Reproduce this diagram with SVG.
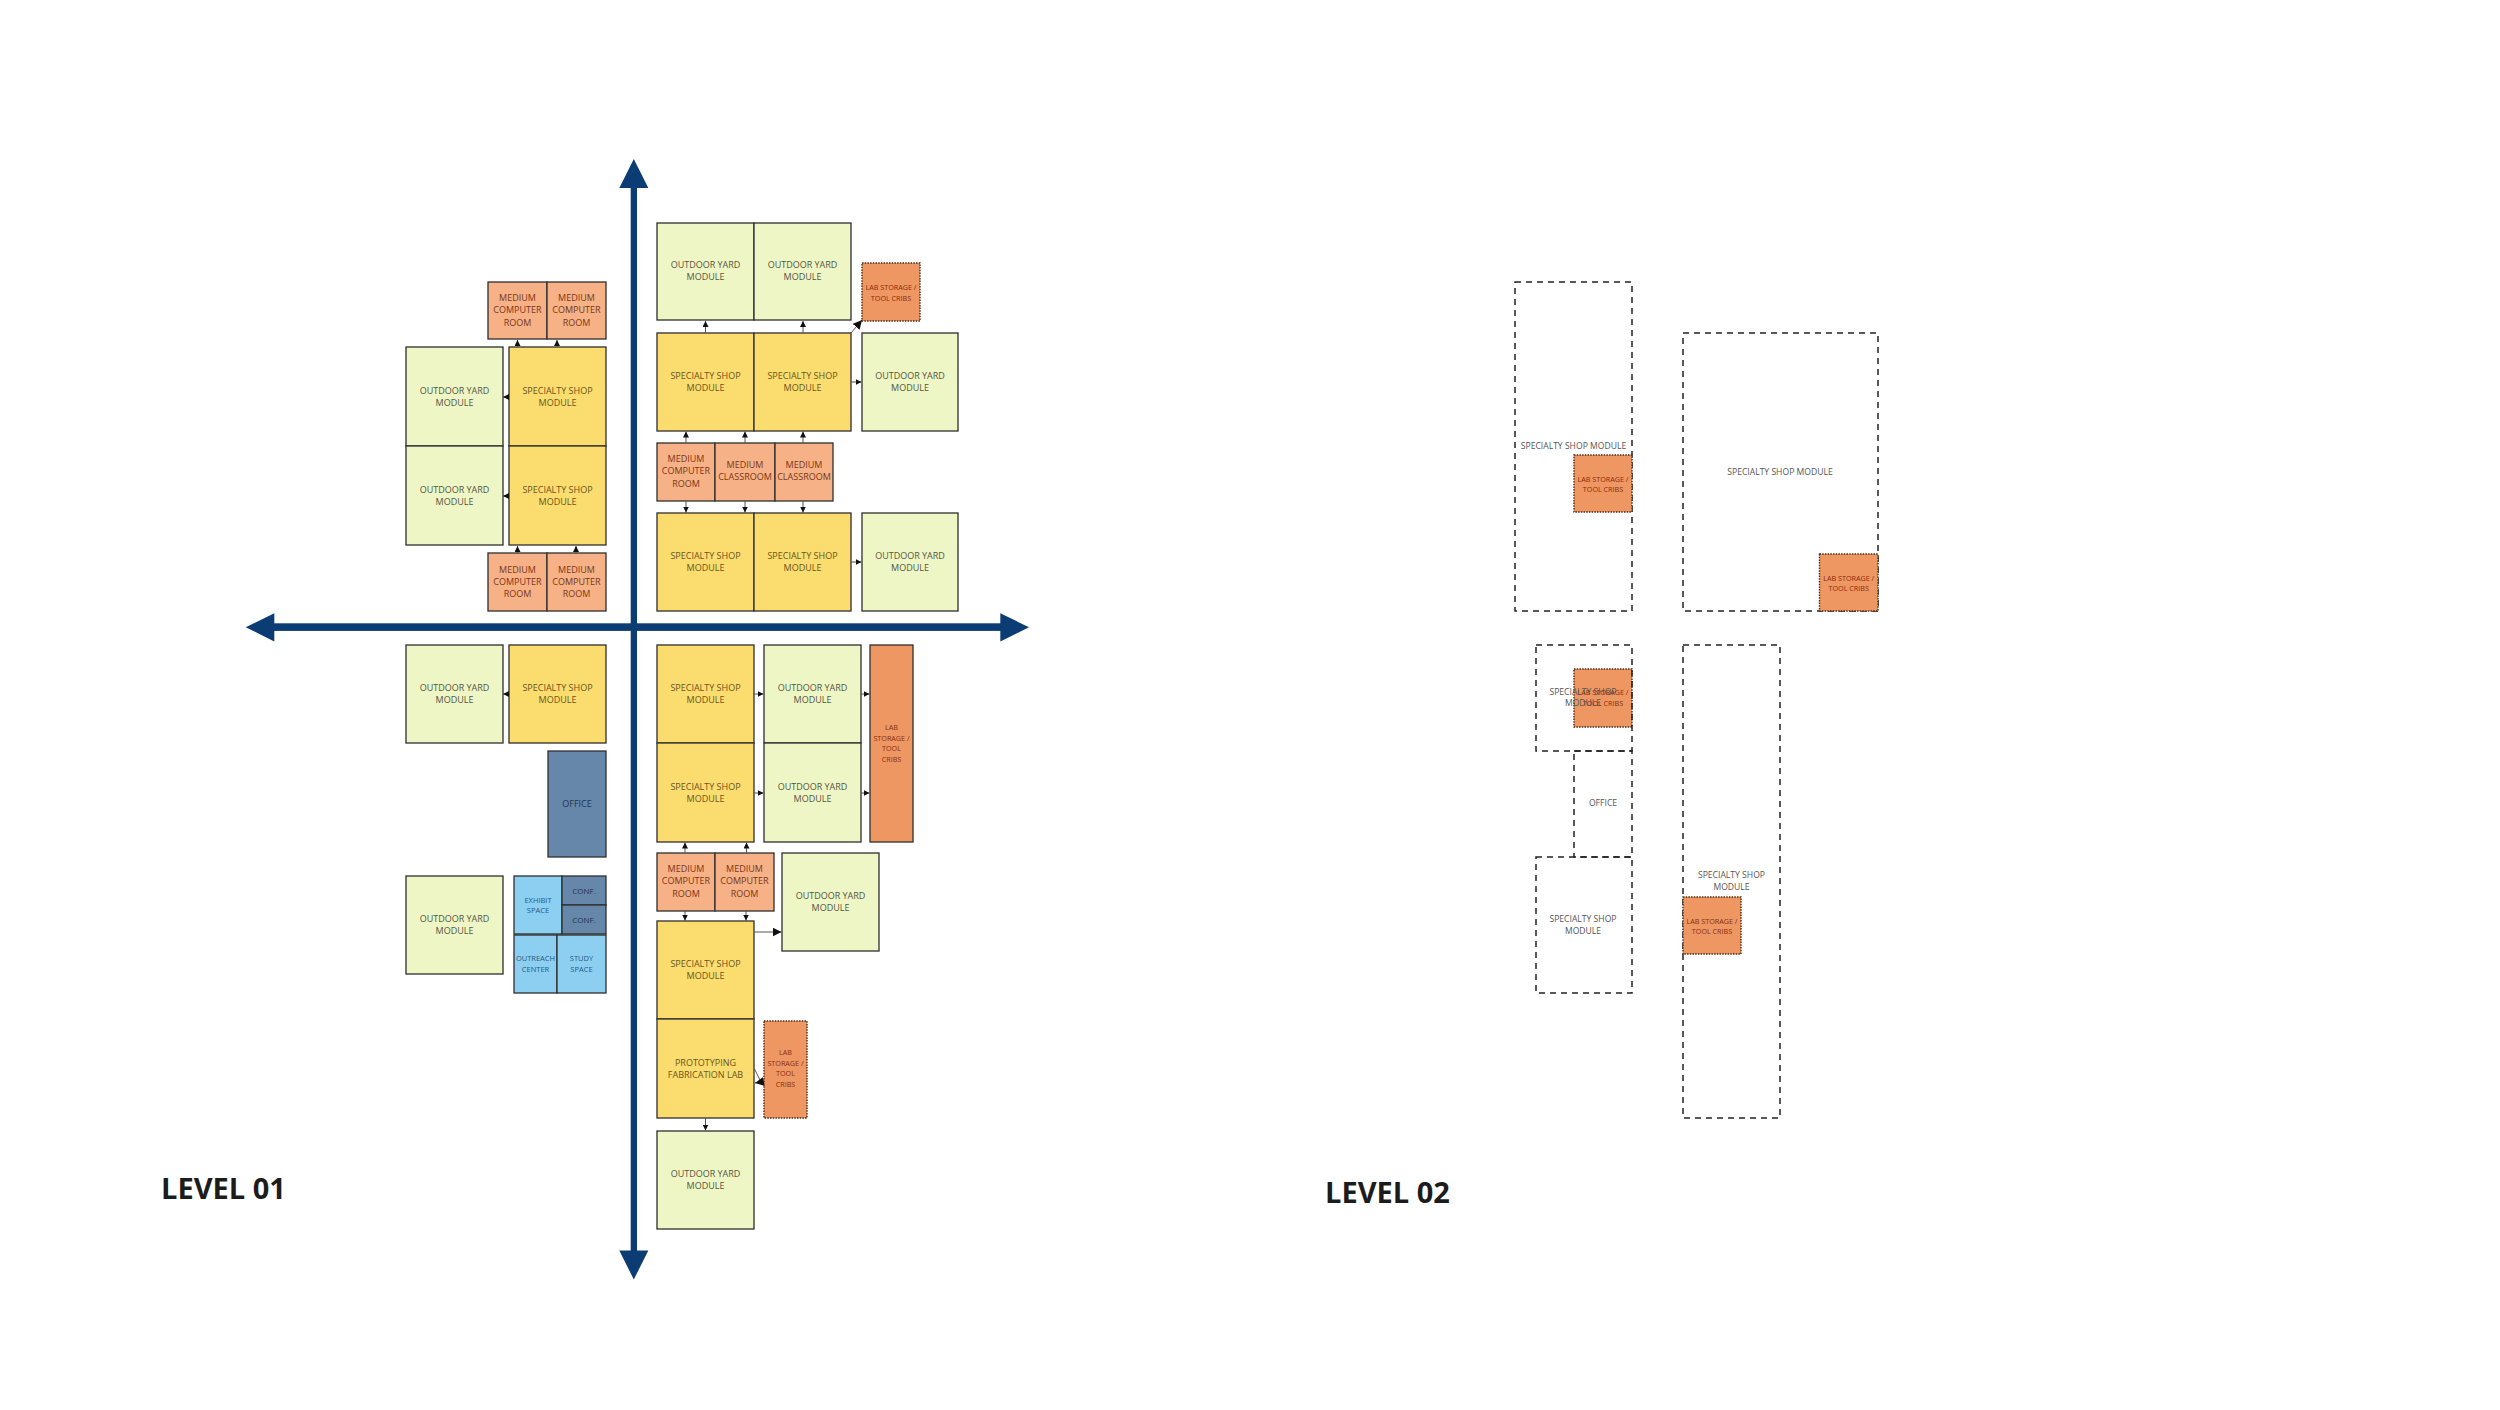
<svg xmlns="http://www.w3.org/2000/svg" width="2500" height="1410" viewBox="0 0 2500 1410">
<style>
text{font-family:"Open Sans","Liberation Sans",sans-serif;font-size:9px;text-anchor:middle}
.oy rect{fill:#eff6c6;stroke:#2e2e2e;stroke-width:1.3}
.oy text{fill:#55553f}
.ss rect{fill:#fbdc6e;stroke:#2e2e2e;stroke-width:1.3}
.ss text{fill:#6a5520}
.rm rect{fill:#f6b286;stroke:#2e2e2e;stroke-width:1.3}
.rm text{fill:#7a3518}
.lab rect{fill:#ee9762;stroke:#4a2a15;stroke-width:1.4;stroke-dasharray:1.5 1.2}
.labs rect{fill:#ee9762;stroke:#2e2e2e;stroke-width:1.3}
.lab text,.labs text{fill:#8a2c10;font-size:7.2px}
.of rect{fill:#6687aa;stroke:#2e2e2e;stroke-width:1.3}
.of text{fill:#1f3550}
.lb rect{fill:#8dcff0;stroke:#2e2e2e;stroke-width:1.3}
.lb text{fill:#245a88;font-size:7.5px}
.dsh rect{fill:none;stroke:#222;stroke-width:1.5;stroke-dasharray:6 5}
.dsh text{fill:#555;font-size:8.6px}
.lvl{font-family:"Open Sans","Liberation Sans",sans-serif;font-weight:700;font-size:29px;fill:#1c1c1c;text-anchor:start}
.cn line,.cn path{stroke:#555;stroke-width:1;fill:none;marker-end:url(#ah)}
.cn .big{marker-end:url(#ahb)}
</style>
<defs>
<marker id="ah" viewBox="0 0 10 10" refX="10" refY="5" markerWidth="6" markerHeight="6" markerUnits="userSpaceOnUse" orient="auto"><path d="M0,0 L10,5 L0,10 z" fill="#111"/></marker>
<marker id="ahb" viewBox="0 0 10 10" refX="10" refY="5" markerWidth="9" markerHeight="9" markerUnits="userSpaceOnUse" orient="auto"><path d="M0,0 L10,5 L0,10 z" fill="#111"/></marker>
</defs>
<rect width="2500" height="1410" fill="#ffffff"/>

<g id="axes" fill="#0b3c74">
<rect x="630.7" y="186" width="6.3" height="1066"/>
<polygon points="633.8,159 619.3,188 648.3,188"/>
<polygon points="633.8,1279.5 619.3,1250.5 648.3,1250.5"/>
<rect x="273" y="623.3" width="728" height="7.6"/>
<polygon points="245.7,627.2 274.3,613.3 274.3,641.5"/>
<polygon points="1029,627.2 1000.3,613.3 1000.3,641.5"/>
</g>

<!-- Level 01, top-left -->
<g id="tl-mcr1" class="rm"><rect x="488" y="282" width="59" height="57"/><text x="517.5" y="301">MEDIUM</text><text x="517.5" y="313.3">COMPUTER</text><text x="517.5" y="325.6">ROOM</text></g>
<g id="tl-mcr2" class="rm"><rect x="547" y="282" width="59" height="57"/><text x="576.5" y="301">MEDIUM</text><text x="576.5" y="313.3">COMPUTER</text><text x="576.5" y="325.6">ROOM</text></g>
<g id="tl-oy1" class="oy"><rect x="406" y="347" width="97" height="99"/><text x="454.5" y="393.5">OUTDOOR YARD</text><text x="454.5" y="405.5">MODULE</text></g>
<g id="tl-ss1" class="ss"><rect x="509" y="347" width="97" height="99"/><text x="557.5" y="393.5">SPECIALTY SHOP</text><text x="557.5" y="405.5">MODULE</text></g>
<g id="tl-oy2" class="oy"><rect x="406" y="446" width="97" height="99"/><text x="454.5" y="492.5">OUTDOOR YARD</text><text x="454.5" y="504.5">MODULE</text></g>
<g id="tl-ss2" class="ss"><rect x="509" y="446" width="97" height="99"/><text x="557.5" y="492.5">SPECIALTY SHOP</text><text x="557.5" y="504.5">MODULE</text></g>
<g id="tl-mcr3" class="rm"><rect x="488" y="553" width="59" height="58"/><text x="517.5" y="572.5">MEDIUM</text><text x="517.5" y="584.8">COMPUTER</text><text x="517.5" y="597.1">ROOM</text></g>
<g id="tl-mcr4" class="rm"><rect x="547" y="553" width="59" height="58"/><text x="576.5" y="572.5">MEDIUM</text><text x="576.5" y="584.8">COMPUTER</text><text x="576.5" y="597.1">ROOM</text></g>

<!-- Level 01, top-right -->
<g id="tr-oy1" class="oy"><rect x="657" y="223" width="97" height="97"/><text x="705.5" y="268">OUTDOOR YARD</text><text x="705.5" y="280">MODULE</text></g>
<g id="tr-oy2" class="oy"><rect x="754" y="223" width="97" height="97"/><text x="802.5" y="268">OUTDOOR YARD</text><text x="802.5" y="280">MODULE</text></g>
<g id="tr-lab1" class="lab"><rect x="862" y="263" width="58" height="58"/><text x="891" y="290">LAB STORAGE /</text><text x="891" y="300.5">TOOL CRIBS</text></g>
<g id="tr-ss1" class="ss"><rect x="657" y="333" width="97" height="98"/><text x="705.5" y="378.5">SPECIALTY SHOP</text><text x="705.5" y="390.5">MODULE</text></g>
<g id="tr-ss2" class="ss"><rect x="754" y="333" width="97" height="98"/><text x="802.5" y="378.5">SPECIALTY SHOP</text><text x="802.5" y="390.5">MODULE</text></g>
<g id="tr-oy3" class="oy"><rect x="862" y="333" width="96" height="98"/><text x="910" y="378.5">OUTDOOR YARD</text><text x="910" y="390.5">MODULE</text></g>
<g id="tr-mcr" class="rm"><rect x="657" y="443" width="58" height="58"/><text x="686" y="462">MEDIUM</text><text x="686" y="474.3">COMPUTER</text><text x="686" y="486.6">ROOM</text></g>
<g id="tr-mc1" class="rm"><rect x="715" y="443" width="60" height="58"/><text x="745" y="468">MEDIUM</text><text x="745" y="480">CLASSROOM</text></g>
<g id="tr-mc2" class="rm"><rect x="775" y="443" width="58" height="58"/><text x="804" y="468">MEDIUM</text><text x="804" y="480">CLASSROOM</text></g>
<g id="tr-ss3" class="ss"><rect x="657" y="513" width="97" height="98"/><text x="705.5" y="558.5">SPECIALTY SHOP</text><text x="705.5" y="570.5">MODULE</text></g>
<g id="tr-ss4" class="ss"><rect x="754" y="513" width="97" height="98"/><text x="802.5" y="558.5">SPECIALTY SHOP</text><text x="802.5" y="570.5">MODULE</text></g>
<g id="tr-oy4" class="oy"><rect x="862" y="513" width="96" height="98"/><text x="910" y="558.5">OUTDOOR YARD</text><text x="910" y="570.5">MODULE</text></g>

<!-- Level 01, bottom-left -->
<g id="bl-oy1" class="oy"><rect x="406" y="645" width="97" height="98"/><text x="454.5" y="691">OUTDOOR YARD</text><text x="454.5" y="703">MODULE</text></g>
<g id="bl-ss1" class="ss"><rect x="509" y="645" width="97" height="98"/><text x="557.5" y="691">SPECIALTY SHOP</text><text x="557.5" y="703">MODULE</text></g>
<g id="bl-office" class="of"><rect x="548" y="751" width="58" height="106"/><text x="577" y="807">OFFICE</text></g>
<g id="bl-oy2" class="oy"><rect x="406" y="876" width="97" height="98"/><text x="454.5" y="922">OUTDOOR YARD</text><text x="454.5" y="934">MODULE</text></g>
<g id="bl-exhibit" class="lb"><rect x="514" y="876" width="48" height="58"/><text x="538" y="902.5">EXHIBIT</text><text x="538" y="913">SPACE</text></g>
<g id="bl-conf1" class="of"><rect x="562" y="876" width="44" height="29"/><text x="584" y="893.5" style="font-size:8px">CONF.</text></g>
<g id="bl-conf2" class="of"><rect x="562" y="905" width="44" height="29"/><text x="584" y="922.5" style="font-size:8px">CONF.</text></g>
<g id="bl-outreach" class="lb"><rect x="514" y="935" width="43" height="58"/><text x="535.5" y="961">OUTREACH</text><text x="535.5" y="971.5">CENTER</text></g>
<g id="bl-study" class="lb"><rect x="557" y="935" width="49" height="58"/><text x="581.5" y="961">STUDY</text><text x="581.5" y="971.5">SPACE</text></g>

<!-- Level 01, bottom-right -->
<g id="br-ss1" class="ss"><rect x="657" y="645" width="97" height="98"/><text x="705.5" y="691">SPECIALTY SHOP</text><text x="705.5" y="703">MODULE</text></g>
<g id="br-ss2" class="ss"><rect x="657" y="743" width="97" height="99"/><text x="705.5" y="790">SPECIALTY SHOP</text><text x="705.5" y="802">MODULE</text></g>
<g id="br-oy1" class="oy"><rect x="764" y="645" width="97" height="98"/><text x="812.5" y="691">OUTDOOR YARD</text><text x="812.5" y="703">MODULE</text></g>
<g id="br-oy2" class="oy"><rect x="764" y="743" width="97" height="99"/><text x="812.5" y="790">OUTDOOR YARD</text><text x="812.5" y="802">MODULE</text></g>
<g id="br-lab1" class="labs"><rect x="870" y="645" width="43" height="197"/><text x="891.5" y="730">LAB</text><text x="891.5" y="740.5">STORAGE /</text><text x="891.5" y="751">TOOL</text><text x="891.5" y="761.5">CRIBS</text></g>
<g id="br-mcr1" class="rm"><rect x="657" y="853" width="58" height="58"/><text x="686" y="872">MEDIUM</text><text x="686" y="884.3">COMPUTER</text><text x="686" y="896.6">ROOM</text></g>
<g id="br-mcr2" class="rm"><rect x="715" y="853" width="59" height="58"/><text x="744.5" y="872">MEDIUM</text><text x="744.5" y="884.3">COMPUTER</text><text x="744.5" y="896.6">ROOM</text></g>
<g id="br-oy3" class="oy"><rect x="782" y="853" width="97" height="98"/><text x="830.5" y="898.5">OUTDOOR YARD</text><text x="830.5" y="910.5">MODULE</text></g>
<g id="br-ss3" class="ss"><rect x="657" y="921" width="97" height="98"/><text x="705.5" y="966.5">SPECIALTY SHOP</text><text x="705.5" y="978.5">MODULE</text></g>
<g id="br-proto" class="ss"><rect x="657" y="1019" width="97" height="99"/><text x="705.5" y="1065.5">PROTOTYPING</text><text x="705.5" y="1077.5">FABRICATION LAB</text></g>
<g id="br-lab2" class="lab"><rect x="764" y="1021" width="43" height="97"/><text x="785.5" y="1055">LAB</text><text x="785.5" y="1065.5">STORAGE /</text><text x="785.5" y="1076">TOOL</text><text x="785.5" y="1086.5">CRIBS</text></g>
<g id="br-oy4" class="oy"><rect x="657" y="1131" width="97" height="98"/><text x="705.5" y="1176.5">OUTDOOR YARD</text><text x="705.5" y="1188.5">MODULE</text></g>

<g id="connectors" class="cn">
<line x1="517.5" y1="347" x2="517.5" y2="340"/>
<line x1="557" y1="347" x2="557" y2="340"/>
<line x1="509" y1="397" x2="503" y2="397"/>
<line x1="509" y1="496" x2="503" y2="496"/>
<line x1="517.5" y1="553" x2="517.5" y2="546"/>
<line x1="576" y1="553" x2="576" y2="546"/>
<line x1="705.5" y1="333" x2="705.5" y2="321"/>
<line x1="803" y1="333" x2="803" y2="321"/>
<line class="big" x1="851" y1="333" x2="862" y2="320"/>
<line x1="851" y1="382" x2="861.5" y2="382"/>
<line x1="686" y1="443" x2="686" y2="431.5"/>
<line x1="745" y1="443" x2="745" y2="431.5"/>
<line x1="803" y1="443" x2="803" y2="431.5"/>
<line x1="686" y1="501" x2="686" y2="512.5"/>
<line x1="745" y1="501" x2="745" y2="512.5"/>
<line x1="803" y1="501" x2="803" y2="512.5"/>
<line x1="851" y1="562" x2="861.5" y2="562"/>
<line x1="509" y1="694" x2="503" y2="694"/>
<line x1="754" y1="694" x2="763.5" y2="694"/>
<line x1="754" y1="793" x2="763.5" y2="793"/>
<line x1="861" y1="694" x2="869.5" y2="694"/>
<line x1="861" y1="793" x2="869.5" y2="793"/>
<line x1="685" y1="853" x2="685" y2="842.5"/>
<line x1="746.5" y1="853" x2="746.5" y2="842.5"/>
<line x1="685" y1="911" x2="685" y2="920.5"/>
<line x1="746" y1="911" x2="746" y2="920.5"/>
<line class="big" x1="754" y1="932" x2="781.5" y2="932"/>
<path class="big" d="M754.5,1069 L761,1082 L755,1083"/>
<line x1="705.5" y1="1118" x2="705.5" y2="1130.5"/>
</g>

<!-- Level 02 -->
<g id="l2-ss1" class="dsh"><rect x="1515" y="282" width="117" height="329"/><text x="1573.5" y="448.8">SPECIALTY SHOP MODULE</text></g>
<g id="l2-lab1" class="lab"><rect x="1574" y="455" width="58" height="57"/><text x="1603" y="481.5">LAB STORAGE /</text><text x="1603" y="492">TOOL CRIBS</text></g>
<g id="l2-ss2" class="dsh"><rect x="1683" y="333" width="195" height="278"/><text x="1780" y="474.5">SPECIALTY SHOP MODULE</text></g>
<g id="l2-lab2" class="lab"><rect x="1819.5" y="554" width="58.5" height="57"/><text x="1848.7" y="580.5">LAB STORAGE /</text><text x="1848.7" y="591">TOOL CRIBS</text></g>
<g id="l2-lab3" class="lab"><rect x="1574" y="669" width="58" height="58"/><text x="1603" y="695">LAB STORAGE /</text><text x="1603" y="705.5">TOOL CRIBS</text></g>
<g id="l2-ss3" class="dsh"><rect x="1536" y="645" width="96" height="106"/><text x="1583" y="694.8">SPECIALTY SHOP</text><text x="1583" y="706">MODULE</text></g>
<g id="l2-office" class="dsh"><rect x="1574" y="751" width="58" height="106"/><text x="1603" y="805.8">OFFICE</text></g>
<g id="l2-ss4" class="dsh"><rect x="1536" y="857" width="96" height="136"/><text x="1583" y="921.8">SPECIALTY SHOP</text><text x="1583" y="934">MODULE</text></g>
<g id="l2-ss5" class="dsh"><rect x="1683" y="645" width="97" height="473"/><text x="1731.5" y="878">SPECIALTY SHOP</text><text x="1731.5" y="890">MODULE</text></g>
<g id="l2-lab4" class="lab"><rect x="1683" y="897" width="58" height="57"/><text x="1712" y="923.5">LAB STORAGE /</text><text x="1712" y="934">TOOL CRIBS</text></g>

<text class="lvl" x="161" y="1199.3">LEVEL 01</text>
<text class="lvl" x="1325" y="1202.7">LEVEL 02</text>
</svg>
